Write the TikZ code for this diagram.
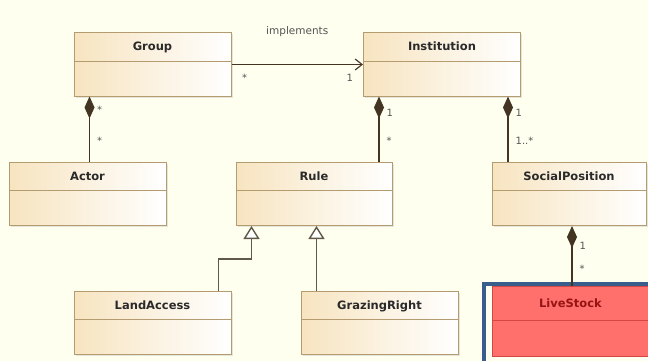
\documentclass[tikz,border=0pt]{standalone}
\usepackage{fontspec}
\setmainfont{DejaVu Sans}
\usetikzlibrary{arrows.meta, positioning, shadows}
\definecolor{umlbg}{RGB}{255, 255, 240}
\definecolor{umlborder}{RGB}{180, 156, 112}
\definecolor{umlfill}{RGB}{247, 228, 192}
\definecolor{umltext}{RGB}{42, 42, 42}
\definecolor{umlline}{RGB}{68, 52, 34}
\definecolor{genline}{RGB}{96, 88, 72}
\definecolor{redfill}{RGB}{255, 112, 108}
\definecolor{redborder}{RGB}{212, 70, 66}
\definecolor{redtext}{RGB}{150, 20, 20}
\definecolor{selblue}{RGB}{58, 94, 140}

\begin{document}
\begin{tikzpicture}[
    x=1pt, y=-1pt,
    classbox/.style={rectangle, draw=umlborder, line width=1pt, left color=umlfill, right color=white,
        minimum width=157pt, inner xsep=0pt, inner ysep=0pt, text height=18pt, text depth=45pt,
        font=\bfseries\fontsize{11.5}{13}\selectfont, text=umltext,
        drop shadow={shadow xshift=1.5pt, shadow yshift=-1.5pt, opacity=0.2},
        path picture={\draw[umlborder, line width=0.9pt]
            ([yshift=-28pt]path picture bounding box.north west) -- ([yshift=-28pt]path picture bounding box.north east);}},
    redbox/.style={rectangle, draw=redborder, line width=1pt, fill=redfill,
        minimum width=157pt, inner xsep=0pt, inner ysep=0pt, text height=21pt, text depth=49pt,
        font=\bfseries\fontsize{11.5}{13}\selectfont, text=redtext,
        path picture={\draw[redborder, line width=0.9pt]
            ([yshift=-34pt]path picture bounding box.north west) -- ([yshift=-34pt]path picture bounding box.north east);}},
    mult/.style={font=\fontsize{10}{12}\selectfont, text=umltext!80, inner sep=1pt},
    comp/.style={{Diamond[length=22pt, width=10pt]}-, line width=1.4pt, umlline},
    gen/.style={-{Triangle[length=13pt, width=16pt, fill=white]}, line width=1.4pt, genline},
    assoc/.style={-{Straight Barb[length=7pt, width=11pt]}, line width=1.1pt, umlline}
]

\clip (0,0) rectangle (648,361);
\fill[umlbg] (0,0) rectangle (648,361);

% classes
\node[classbox] (group) at (152.5,64.5) {Group};
\node[classbox] (institution) at (442,64.5) {Institution};
\node[classbox] (actor) at (87.5,194) {Actor};
\node[classbox, minimum width=156pt] (rule) at (314,194) {Rule};
\node[classbox, minimum width=154pt] (socpos) at (569,194) {SocialPosition};
\node[classbox] (landaccess) at (152.5,323) {LandAccess};
\node[classbox] (grazing) at (379.5,323) {GrazingRight};
\node[redbox] (livestock) at (570.5,321) {LiveStock};

% selection frame
\draw[selblue, line width=4pt] ([shift={(-8pt,1.5pt)}]livestock.north west) rectangle ([shift={(12pt,-12pt)}]livestock.south east);

% associations
\draw[assoc] (group.east) -- node[mult, pos=0.5, above=26pt, font=\fontsize{10.5}{12}\selectfont] (implabel) {implements}
    node[mult, pos=0.1, below=8pt] (groupmult) {*}
    node[mult, pos=0.9, below=8pt] (instmult) {1} (institution.west);

\draw[comp] ([xshift=16pt]group.south west) -- node[mult, pos=0.2, right=6pt] (groupcomp) {*}
    node[mult, pos=0.67, right=6pt] (actorcomp) {*} ([xshift=16pt]group.south west |- actor.north);

\draw[comp] ([xshift=16pt]institution.south west) -- node[mult, pos=0.25, right=6pt] (instrule) {1}
    node[mult, pos=0.67, right=6pt] (ruleinst) {*} ([xshift=16pt]institution.south west |- rule.north);

\draw[comp] ([xshift=-13pt]institution.south east) -- node[mult, pos=0.25, right=6pt] (instsoc) {1}
    node[mult, pos=0.67, right=6pt] (socinst) {1..*} ([xshift=-13pt]institution.south east |- socpos.north);

\draw[comp] ([xshift=3pt]socpos.south) -- node[mult, pos=0.33, right=6pt] (socstock) {1}
    node[mult, pos=0.72, right=6pt] (stocksoc) {*} ([xshift=3pt]socpos.south |- livestock.north);

% generalizations
\draw[gen] ([xshift=-13pt]landaccess.north east) -- ++(0,-32) -| ([xshift=16pt]rule.south west);
\draw[gen] ([xshift=16pt]grazing.north west) -- ([xshift=16pt]grazing.north west |- rule.south);

\end{tikzpicture}
\end{document}
